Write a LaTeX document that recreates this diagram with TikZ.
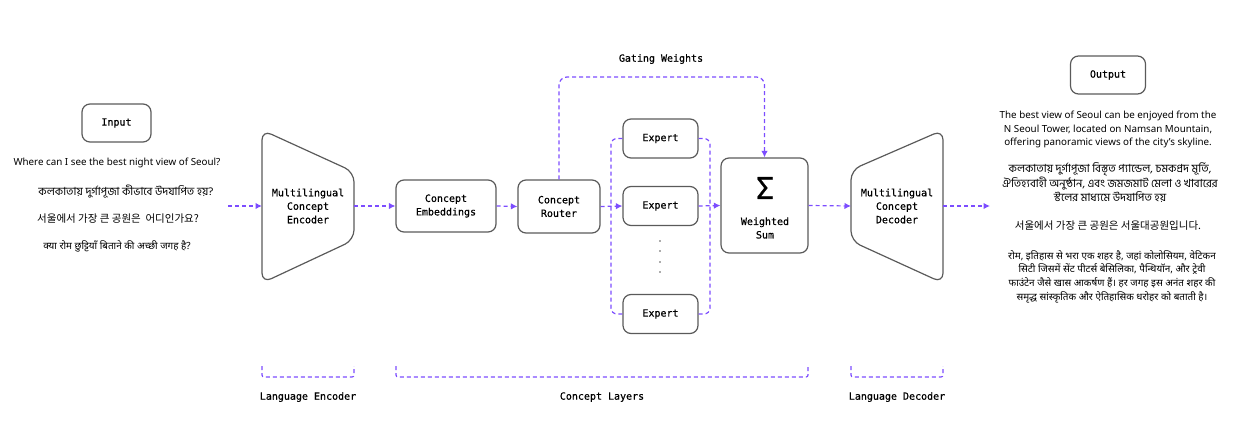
\documentclass[tikz,border=0pt]{standalone}
\usepackage{fontspec}
\setmainfont{Noto Sans}
\setmonofont[FakeBold=0.6]{DejaVu Sans Mono}
\newfontfamily\bnfont[Script=Bengali]{Hind Siliguri}
\newfontfamily\hifont[Script=Devanagari]{Noto Sans}
\newfontfamily\kofont{Noto Sans CJK KR}
\usetikzlibrary{arrows.meta}
\definecolor{lien}{HTML}{7C4DFF}
\definecolor{bord}{HTML}{5A5A5A}

\begin{document}
\begin{tikzpicture}[x=1pt,y=-1pt]
\tikzset{boite/.style={draw=bord, line width=1.2pt, rounded corners=8pt, align=center,
    font=\ttfamily\fontsize{10}{13.5}\selectfont},
  etiq/.style={align=center, inner sep=0pt, font=\ttfamily\fontsize{10}{13.5}\selectfont},
  phrase/.style={align=center, inner sep=0pt, font=\fontsize{9.8}{13.5}\selectfont},
  bengali/.style={phrase, font=\bnfont\fontsize{11.2}{13.5}\selectfont},
  coreen/.style={phrase, font=\kofont\fontsize{10.5}{13.5}\selectfont},
  hindi/.style={phrase, font=\hifont\fontsize{9.9}{13.7}\selectfont},
  fleche/.style={draw=lien, line width=1.2pt, dash pattern=on 4pt off 3pt, -{Latex[length=6.5pt,width=6.5pt]}},
  pointille/.style={draw=lien, line width=1.2pt, dash pattern=on 4pt off 3pt}}
\useasboundingbox (0,0) rectangle (1246,422);
% entree
\node[boite, minimum width=69, minimum height=38] (input) at (116.5,123) {Input};
\node[phrase] (q1) at (117,163) {Where can I see the best night view of Seoul?};
\node[bengali] (q2) at (126,192) {কলকাতায় দুর্গাপূজা কীভাবে উদযাপিত হয়?};
\node[coreen] (q3) at (118,219) {서울에서 가장 큰 공원은 \ 어디인가요?};
\node[hindi] (q4) at (117,246) {क्या रोम छुट्टियाँ बिताने की अच्छी जगह है?};
% encodeur
\draw[draw=bord, line width=1.2pt, rounded corners=10pt] (262,206) -- (262,130) -- (354,172) -- (354,240) -- (262,283) -- cycle;
\node[etiq] (enc) at (308,206) {Multilingual\\Concept\\Encoder};
\coordinate (encG) at (262,206);
\coordinate (encD) at (354,206);
\coordinate (depart) at (228,206);
% couches de concepts
\node[boite, minimum width=100, minimum height=52] (emb) at (446,206) {Concept\\Embeddings};
\node[boite, minimum width=82, minimum height=53] (router) at (559,206.5) {Concept\\Router};
\node[boite, minimum width=75, minimum height=39] (E1) at (660.5,138.5) {Expert};
\node[boite, minimum width=75, minimum height=39] (E2) at (660.5,206) {Expert};
\node[boite, minimum width=75, minimum height=39] (E3) at (660.5,314) {Expert};
\foreach \y in {241,251,262,272} \fill[bord] (660,\y) circle (0.8);
\node[boite, minimum width=87, minimum height=95] (wsum) at (764.5,205.5) {};
\node[etiq, font=\ttfamily\fontsize{30}{30}\selectfont] (sigma) at (765,188) {Σ};
\node[etiq] (ws) at (765,228) {Weighted\\Sum};
\coordinate (gw) at (661,77);
\coordinate (jG) at (611,206);
\coordinate (jD) at (710,206);
\node[etiq] (gwlab) at (661,59) {Gating Weights};
% decodeur
\draw[draw=bord, line width=1.2pt, rounded corners=10pt] (851,206) -- (851,170) -- (943,130) -- (943,283) -- (851,241) -- cycle;
\node[etiq] (dec) at (897,206) {Multilingual\\Concept\\Decoder};
\coordinate (decG) at (851,206);
\coordinate (decD) at (943,206);
\coordinate (arrivee) at (990,206);
% sortie
\node[boite, minimum width=75, minimum height=38] (output) at (1108,75) {Output};
\node[phrase] (r1) at (1108,129.5) {The best view of Seoul can be enjoyed from the\\N Seoul Tower, located on Namsan Mountain,\\offering panoramic views of the city's skyline.};
\node[bengali] (r2) at (1110,182.5) {কলকাতায় দুর্গাপূজা বিস্তৃত প্যান্ডেল, চমকপ্রদ মূর্তি,\\ঐতিহ্যবাহী অনুষ্ঠান, এবং জমজমাট মেলা ও খাবারের\\স্টলের মাধ্যমে উদযাপিত হয়};
\node[coreen] (r3) at (1108,226) {서울에서 가장 큰 공원은 서울대공원입니다.};
\node[hindi] (r4) at (1112,276.5) {रोम, इतिहास से भरा एक शहर है, जहां कोलोसियम, वेटिकन\\सिटी जिसमें सेंट पीटर्स बेसिलिका, पैन्थियॉन, और ट्रेवी\\फाउंटेन जैसे खास आकर्षण हैं। हर जगह इस अनंत शहर की\\समृद्ध सांस्कृतिक और ऐतिहासिक धरोहर को बताती है।};
% liens
\draw[fleche] (depart) -- (encG);
\draw[fleche] (encD) -- (emb.west);
\draw[fleche] (emb.east) -- (router.west);
\draw[fleche] (router.east) -- (E2.west);
\draw[pointille, rounded corners=6pt] (E1.west) -| (jG) |- (E3.west);
\draw[pointille, rounded corners=6pt] (E1.east) -| (jD) |- (E3.east);
\draw[fleche] (E2.east) -- (wsum.west);
\draw[fleche, rounded corners=8pt] (router.north) |- (gw) -| (wsum.north);
\draw[fleche] (wsum.east) -- (decG);
\draw[fleche] (decD) -- (arrivee);
% accolades du bas
\draw[pointille, rounded corners=2pt] (262,366) |- (308,377) -| (354,366);
\draw[pointille, rounded corners=2pt] (396,366) |- (602,377) -| (808,366);
\draw[pointille, rounded corners=2pt] (851,366) |- (897,377) -| (943,366);
\node[etiq] (lenc) at (308,397) {Language Encoder};
\node[etiq] (lcon) at (602,397) {Concept Layers};
\node[etiq] (ldec) at (897,397) {Language Decoder};
\end{tikzpicture}
\end{document}
